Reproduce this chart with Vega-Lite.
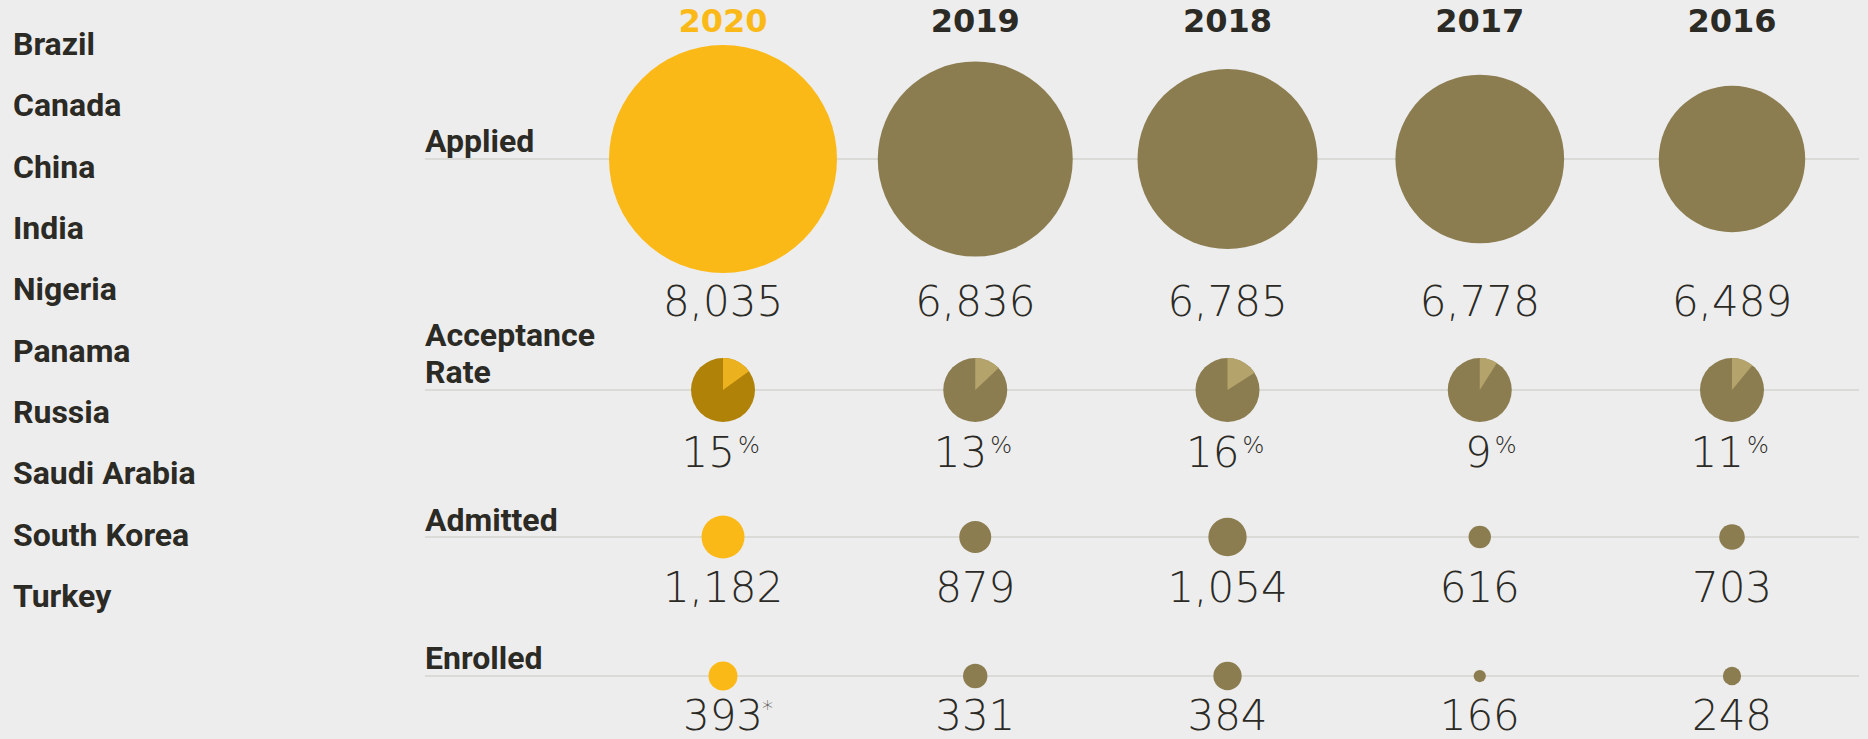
{
  "$schema": "https://vega.github.io/schema/vega-lite/v6.json",
  "width": 1868,
  "height": 739,
  "autosize": {"type": "none"},
  "padding": 0,
  "background": "#EDEDED",
  "config": {"view": {"stroke": null}},
  "datasets": {
    "countries": [
      {"country": "Brazil"}, {"country": "Canada"}, {"country": "China"}, {"country": "India"}, {"country": "Nigeria"},
      {"country": "Panama"}, {"country": "Russia"}, {"country": "Saudi Arabia"}, {"country": "South Korea"}, {"country": "Turkey"}
    ],
    "rows": [
      {"measure": "Applied", "from": "2020", "to": "2016"},
      {"measure": "Acceptance Rate", "from": "2020", "to": "2016"},
      {"measure": "Admitted", "from": "2020", "to": "2016"},
      {"measure": "Enrolled", "from": "2020", "to": "2016"}
    ],
    "stats": [
      {"measure": "Applied", "year": "2020", "value": 8035},
      {"measure": "Applied", "year": "2019", "value": 6836},
      {"measure": "Applied", "year": "2018", "value": 6785},
      {"measure": "Applied", "year": "2017", "value": 6778},
      {"measure": "Applied", "year": "2016", "value": 6489},
      {"measure": "Acceptance Rate", "year": "2020", "value": 15},
      {"measure": "Acceptance Rate", "year": "2019", "value": 13},
      {"measure": "Acceptance Rate", "year": "2018", "value": 16},
      {"measure": "Acceptance Rate", "year": "2017", "value": 9},
      {"measure": "Acceptance Rate", "year": "2016", "value": 11},
      {"measure": "Admitted", "year": "2020", "value": 1182},
      {"measure": "Admitted", "year": "2019", "value": 879},
      {"measure": "Admitted", "year": "2018", "value": 1054},
      {"measure": "Admitted", "year": "2017", "value": 616},
      {"measure": "Admitted", "year": "2016", "value": 703},
      {"measure": "Enrolled", "year": "2020", "value": 393, "note": "*"},
      {"measure": "Enrolled", "year": "2019", "value": 331},
      {"measure": "Enrolled", "year": "2018", "value": 384},
      {"measure": "Enrolled", "year": "2017", "value": 166},
      {"measure": "Enrolled", "year": "2016", "value": 248}
    ]
  },
  "layer": [
    {
      "data": {"name": "countries"},
      "mark": {"type": "text", "align": "left", "baseline": "alphabetic", "dx": -710, "font": "Roboto", "fontWeight": "bold", "fontSize": 32, "color": "#2B2A25"},
      "encoding": {
        "x": {"datum": "2020", "type": "nominal", "scale": {"type": "point", "domain": ["2020", "2019", "2018", "2017", "2016"], "range": [723, 1732], "padding": 0}, "axis": null},
        "y": {"field": "country", "type": "nominal", "sort": null, "scale": {"type": "point", "range": [55, 607], "padding": 0}, "axis": null},
        "text": {"field": "country"}
      }
    },
    {
      "layer": [
        {
          "data": {"name": "rows"},
          "transform": [{"filter": "datum.measure === 'Applied'"}],
          "mark": {"type": "rule", "color": "#D3D4CF", "strokeWidth": 1.5, "xOffset": -298, "x2Offset": 127},
          "encoding": {
            "x": {"field": "from", "type": "nominal", "axis": null},
            "x2": {"field": "to"},
            "y": {"field": "measure", "type": "nominal", "scale": {"type": "point", "range": [159, 159], "padding": 0}, "axis": null}
          }
        },
        {
          "data": {"name": "rows"},
          "transform": [{"filter": "datum.measure === 'Applied'"}],
          "mark": {"type": "text", "align": "left", "baseline": "alphabetic", "dx": -298, "dy": -7, "font": "Roboto", "fontWeight": "bold", "fontSize": 32, "color": "#2B2A25"},
          "encoding": {
            "x": {"field": "from", "type": "nominal", "axis": null},
            "y": {"field": "measure", "type": "nominal", "axis": null},
            "text": {"field": "measure"}
          }
        },
        {
          "data": {"name": "stats"},
          "transform": [{"filter": "datum.measure === 'Applied'"}],
          "mark": {"type": "text", "align": "center", "baseline": "alphabetic", "dy": -127, "font": "DejaVu Sans", "fontWeight": "bold", "fontSize": 32},
          "encoding": {
            "x": {"field": "year", "type": "nominal", "axis": null},
            "y": {"field": "measure", "type": "nominal", "axis": null},
            "text": {"field": "year"},
            "color": {"condition": {"test": "datum.year === '2020'", "value": "#FBB917"}, "value": "#2B2A25"}
          }
        },
        {
          "data": {"name": "stats"},
          "transform": [{"filter": "datum.measure === 'Applied'"}],
          "mark": {"type": "circle", "opacity": 1},
          "encoding": {
            "x": {"field": "year", "type": "nominal", "axis": null},
            "y": {"field": "measure", "type": "nominal", "axis": null},
            "size": {"field": "value", "type": "quantitative", "legend": null, "scale": {"type": "linear", "zero": false, "nice": false, "domain": [6489, 6778, 6785, 6836, 8035], "range": [21433, 28460, 32400, 38025, 51984]}},
            "color": {"condition": {"test": "datum.year === '2020'", "value": "#FBB917"}, "value": "#8B7D50"}
          }
        },
        {
          "data": {"name": "stats"},
          "transform": [{"filter": "datum.measure === 'Applied'"}],
          "mark": {"type": "text", "align": "center", "baseline": "alphabetic", "dy": 157, "font": "DejaVu Sans", "fontWeight": 300, "fontSize": 42, "color": "#2B2A25"},
          "encoding": {
            "x": {"field": "year", "type": "nominal", "axis": null},
            "y": {"field": "measure", "type": "nominal", "axis": null},
            "text": {"field": "value", "type": "quantitative", "format": ","}
          }
        }
      ]
    },
    {
      "layer": [
        {
          "data": {"name": "rows"},
          "transform": [{"filter": "datum.measure === 'Acceptance Rate'"}],
          "mark": {"type": "rule", "color": "#D3D4CF", "strokeWidth": 1.5, "xOffset": -298, "x2Offset": 127},
          "encoding": {
            "x": {"field": "from", "type": "nominal", "axis": null},
            "x2": {"field": "to"},
            "y": {"field": "measure", "type": "nominal", "scale": {"type": "point", "range": [390, 390], "padding": 0}, "axis": null}
          }
        },
        {
          "data": {"name": "rows"},
          "transform": [{"filter": "datum.measure === 'Acceptance Rate'"}],
          "mark": {"type": "text", "align": "left", "baseline": "alphabetic", "dx": -298, "dy": -44.5, "lineBreak": " ", "lineHeight": 37.5, "font": "Roboto", "fontWeight": "bold", "fontSize": 32, "color": "#2B2A25"},
          "encoding": {
            "x": {"field": "from", "type": "nominal", "axis": null},
            "y": {"field": "measure", "type": "nominal", "axis": null},
            "text": {"field": "measure"}
          }
        },
        {
          "data": {"name": "stats"},
          "transform": [{"filter": "datum.measure === 'Acceptance Rate'"}],
          "mark": {"type": "circle", "opacity": 1, "size": 4096},
          "encoding": {
            "x": {"field": "year", "type": "nominal", "axis": null},
            "y": {"field": "measure", "type": "nominal", "axis": null},
            "color": {"condition": {"test": "datum.year === '2020'", "value": "#B08208"}, "value": "#8B7D50"}
          }
        },
        {
          "data": {"name": "stats"},
          "transform": [{"filter": "datum.measure === 'Acceptance Rate'"}],
          "mark": {"type": "arc", "outerRadius": 32},
          "encoding": {
            "x": {"field": "year", "type": "nominal", "axis": null},
            "y": {"field": "measure", "type": "nominal", "axis": null},
            "theta": {"field": "value", "type": "quantitative", "stack": null, "scale": {"domain": [0, 100], "range": [0, 6.283185307]}},
            "color": {"condition": {"test": "datum.year === '2020'", "value": "#ECB11F"}, "value": "#B4A46C"}
          }
        },
        {
          "data": {"name": "stats"},
          "transform": [{"filter": "datum.measure === 'Acceptance Rate'"}],
          "mark": {"type": "text", "align": "right", "baseline": "alphabetic", "dx": 12, "dy": 77, "font": "DejaVu Sans", "fontWeight": 300, "fontSize": 42, "color": "#2B2A25"},
          "encoding": {
            "x": {"field": "year", "type": "nominal", "axis": null},
            "y": {"field": "measure", "type": "nominal", "axis": null},
            "text": {"field": "value", "type": "quantitative"}
          }
        },
        {
          "data": {"name": "stats"},
          "transform": [{"filter": "datum.measure === 'Acceptance Rate'"}],
          "mark": {"type": "text", "align": "left", "baseline": "alphabetic", "dx": 15, "dy": 63, "font": "DejaVu Sans", "fontWeight": 300, "fontSize": 23, "color": "#2B2A25"},
          "encoding": {
            "x": {"field": "year", "type": "nominal", "axis": null},
            "y": {"field": "measure", "type": "nominal", "axis": null},
            "text": {"value": "%"}
          }
        }
      ]
    },
    {
      "layer": [
        {
          "data": {"name": "rows"},
          "transform": [{"filter": "datum.measure === 'Admitted'"}],
          "mark": {"type": "rule", "color": "#D3D4CF", "strokeWidth": 1.5, "xOffset": -298, "x2Offset": 127},
          "encoding": {
            "x": {"field": "from", "type": "nominal", "axis": null},
            "x2": {"field": "to"},
            "y": {"field": "measure", "type": "nominal", "scale": {"type": "point", "range": [537, 537], "padding": 0}, "axis": null}
          }
        },
        {
          "data": {"name": "rows"},
          "transform": [{"filter": "datum.measure === 'Admitted'"}],
          "mark": {"type": "text", "align": "left", "baseline": "alphabetic", "dx": -298, "dy": -6.5, "font": "Roboto", "fontWeight": "bold", "fontSize": 32, "color": "#2B2A25"},
          "encoding": {
            "x": {"field": "from", "type": "nominal", "axis": null},
            "y": {"field": "measure", "type": "nominal", "axis": null},
            "text": {"field": "measure"}
          }
        },
        {
          "data": {"name": "stats"},
          "transform": [{"filter": "datum.measure === 'Admitted'"}],
          "mark": {"type": "circle", "opacity": 1},
          "encoding": {
            "x": {"field": "year", "type": "nominal", "axis": null},
            "y": {"field": "measure", "type": "nominal", "axis": null},
            "size": {"field": "value", "type": "quantitative", "legend": null, "scale": {"type": "pow", "exponent": 2, "domain": [0, 1182], "range": [0, 1849]}},
            "color": {"condition": {"test": "datum.year === '2020'", "value": "#FBB917"}, "value": "#8B7D50"}
          }
        },
        {
          "data": {"name": "stats"},
          "transform": [{"filter": "datum.measure === 'Admitted'"}],
          "mark": {"type": "text", "align": "center", "baseline": "alphabetic", "dy": 65, "font": "DejaVu Sans", "fontWeight": 300, "fontSize": 42, "color": "#2B2A25"},
          "encoding": {
            "x": {"field": "year", "type": "nominal", "axis": null},
            "y": {"field": "measure", "type": "nominal", "axis": null},
            "text": {"field": "value", "type": "quantitative", "format": ","}
          }
        }
      ]
    },
    {
      "layer": [
        {
          "data": {"name": "rows"},
          "transform": [{"filter": "datum.measure === 'Enrolled'"}],
          "mark": {"type": "rule", "color": "#D3D4CF", "strokeWidth": 1.5, "xOffset": -298, "x2Offset": 127},
          "encoding": {
            "x": {"field": "from", "type": "nominal", "axis": null},
            "x2": {"field": "to"},
            "y": {"field": "measure", "type": "nominal", "scale": {"type": "point", "range": [676, 676], "padding": 0}, "axis": null}
          }
        },
        {
          "data": {"name": "rows"},
          "transform": [{"filter": "datum.measure === 'Enrolled'"}],
          "mark": {"type": "text", "align": "left", "baseline": "alphabetic", "dx": -298, "dy": -7, "font": "Roboto", "fontWeight": "bold", "fontSize": 32, "color": "#2B2A25"},
          "encoding": {
            "x": {"field": "from", "type": "nominal", "axis": null},
            "y": {"field": "measure", "type": "nominal", "axis": null},
            "text": {"field": "measure"}
          }
        },
        {
          "data": {"name": "stats"},
          "transform": [{"filter": "datum.measure === 'Enrolled'"}],
          "mark": {"type": "circle", "opacity": 1},
          "encoding": {
            "x": {"field": "year", "type": "nominal", "axis": null},
            "y": {"field": "measure", "type": "nominal", "axis": null},
            "size": {"field": "value", "type": "quantitative", "legend": null, "scale": {"type": "pow", "exponent": 2, "domain": [0, 393], "range": [0, 841]}},
            "color": {"condition": {"test": "datum.year === '2020'", "value": "#FBB917"}, "value": "#8B7D50"}
          }
        },
        {
          "data": {"name": "stats"},
          "transform": [{"filter": "datum.measure === 'Enrolled'"}],
          "mark": {"type": "text", "align": "center", "baseline": "alphabetic", "dy": 54, "font": "DejaVu Sans", "fontWeight": 300, "fontSize": 42, "color": "#2B2A25"},
          "encoding": {
            "x": {"field": "year", "type": "nominal", "axis": null},
            "y": {"field": "measure", "type": "nominal", "axis": null},
            "text": {"field": "value", "type": "quantitative", "format": ","}
          }
        },
        {
          "data": {"name": "stats"},
          "transform": [{"filter": "datum.measure === 'Enrolled' && datum.note"}],
          "mark": {"type": "text", "align": "left", "baseline": "alphabetic", "dx": 39, "dy": 40, "font": "DejaVu Sans", "fontWeight": 300, "fontSize": 22, "color": "#55544F"},
          "encoding": {
            "x": {"field": "year", "type": "nominal", "axis": null},
            "y": {"field": "measure", "type": "nominal", "axis": null},
            "text": {"field": "note"}
          }
        }
      ]
    }
  ],
  "resolve": {"scale": {"y": "independent", "size": "independent"}, "axis": {"y": "independent"}}
}
